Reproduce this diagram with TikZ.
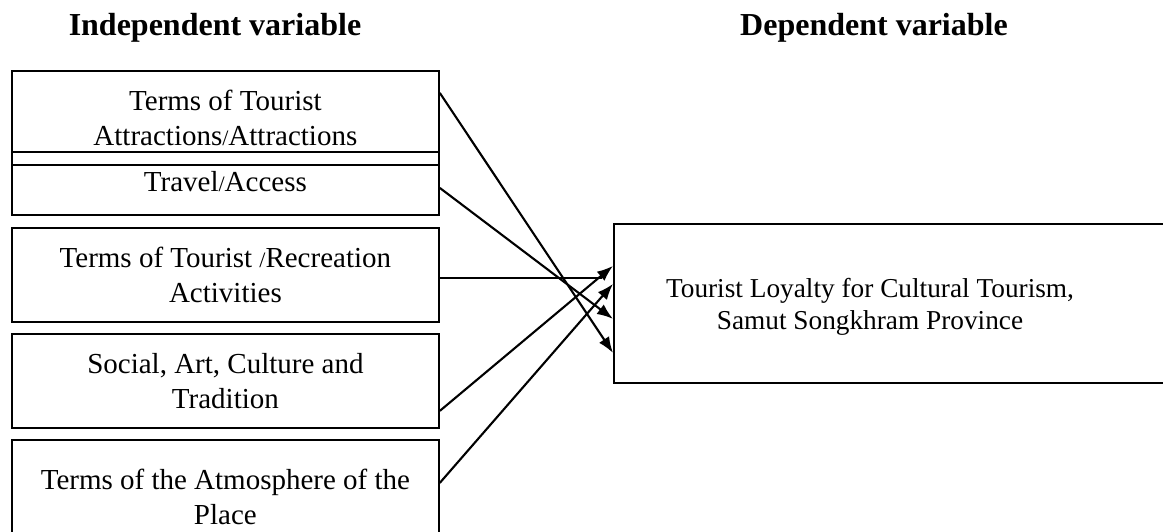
\documentclass[tikz,border=0pt]{standalone}
\usepackage{fontspec}
\setmainfont{Liberation Serif}
\usetikzlibrary{arrows.meta}
% a slash set a little smaller than the surrounding text
\newcommand\thinslash{{\fontsize{22}{22}\selectfont/}}
\begin{document}
\begin{tikzpicture}[x=1pt,y=-1pt,
  box/.style={draw, line width=1.8pt, inner sep=0pt, anchor=north west,
    align=center, minimum width=427pt, font=\fontsize{29}{35}\selectfont},
  heading/.style={font=\fontsize{32}{38}\selectfont\bfseries, anchor=base},
  link/.style={line width=2.1pt, -{Latex[length=16pt,width=12pt]}}]
\useasboundingbox (0,0) rectangle (1163,531);

% column headings
\node[heading] (indep) at (215,35) {Independent variable};
\node[heading] (deplab) at (874,35) {Dependent variable};

% independent variables
\node[box, minimum height=94pt] (attr) at (11,70) {Terms of Tourist\\Attractions\thinslash Attractions};
\node[box, minimum height=63pt] (travel) at (11,151) {\raisebox{3pt}{Travel\thinslash Access}};
\node[box, minimum height=94pt] (recr) at (11,227) {Terms of Tourist \thinslash Recreation\\Activities};
\node[box, minimum height=94pt] (social) at (11,333) {Social, Art, Culture and\\Tradition};
\node[box, minimum height=114pt] (atmos) at (11,439) {Terms of the Atmosphere of the\\Place};

% dependent variable
\node[draw, line width=1.8pt, inner sep=0pt, anchor=north west,
  minimum width=570pt, minimum height=159pt] (dep) at (613,223) {};
\node[font=\fontsize{27.3}{32}\selectfont, align=center] (deptext) at (870,307)
  {Tourist Loyalty for Cultural Tourism,\\Samut Songkhram Province};

% influences
\draw[link] ([yshift=25pt]attr.east) -- ([yshift=-49.5pt]dep.west);
\draw[link] ([yshift=-4.5pt]travel.east) -- ([yshift=-15.5pt]dep.west);
\draw[line width=2.1pt] ([yshift=-3pt]recr.east) -- ([xshift=-11pt,yshift=25.5pt]dep.west);
\draw[link] ([yshift=-30pt]social.east) -- ([yshift=37.5pt]dep.west);
\draw[link] ([yshift=14pt]atmos.east) -- ([yshift=19.5pt]dep.west);
\end{tikzpicture}
\end{document}
